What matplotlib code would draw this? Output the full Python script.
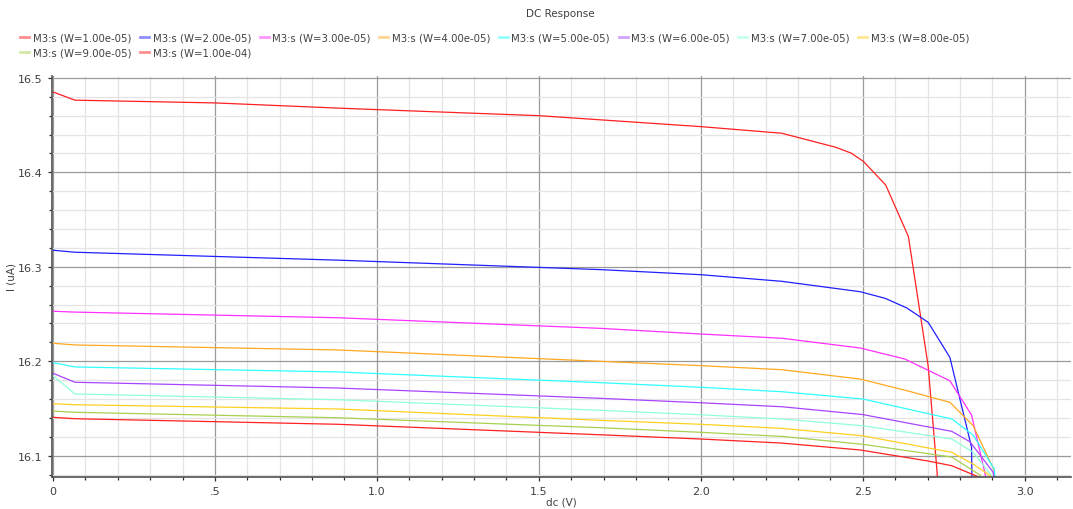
import matplotlib
matplotlib.use("Agg")
import matplotlib.pyplot as plt
from matplotlib.lines import Line2D
from matplotlib.ticker import MultipleLocator

# ---- data (dc sweep in V, current in uA) ----
labels = ["M3:s (W=1.00e-05)", "M3:s (W=2.00e-05)", "M3:s (W=3.00e-05)",
          "M3:s (W=4.00e-05)", "M3:s (W=5.00e-05)", "M3:s (W=6.00e-05)",
          "M3:s (W=7.00e-05)", "M3:s (W=8.00e-05)", "M3:s (W=9.00e-05)",
          "M3:s (W=1.00e-04)"]
colors = ["#ff2020", "#2020ff", "#ff30ff", "#ffa820", "#30ffff",
          "#a845ff", "#90ffd8", "#ffd020", "#a8d050", "#ff2020"]

w1_x = [0, 0.068, 0.5, 0.88, 1.0, 1.5, 2.0, 2.25, 2.416, 2.464, 2.502, 2.571, 2.641, 2.702, 2.729, 2.75]
w1_y = [16.4851, 16.4764, 16.4735, 16.468, 16.4664, 16.46, 16.4484, 16.4414, 16.4266, 16.4204,
        16.4116, 16.3865, 16.332, 16.195, 16.085, 15.98]
w2_x = [0, 0.068, 0.88, 1.689, 2.0, 2.25, 2.492, 2.569, 2.636, 2.702, 2.769, 2.836, 2.843]
w2_y = [16.3175, 16.3154, 16.307, 16.297, 16.2916, 16.2846, 16.2736, 16.2666, 16.2564, 16.2412,
        16.2041, 16.1088, 15.90]
w3_x = [0, 0.068, 0.88, 1.689, 2.0, 2.25, 2.492, 2.63, 2.769, 2.836, 2.905]
w3_y = [16.2529, 16.252, 16.246, 16.2348, 16.2288, 16.2243, 16.214, 16.2023, 16.1793, 16.143, 16.04]
w4_x = [0, 0.068, 0.88, 1.689, 2.0, 2.25, 2.492, 2.636, 2.769, 2.841, 2.905, 2.93]
w4_y = [16.219, 16.2172, 16.2119, 16.1999, 16.1953, 16.191, 16.1811, 16.1688, 16.1565, 16.1317,
        16.085, 16.0]
w5_x = [0, 0.068, 0.88, 1.689, 2.0, 2.25, 2.5, 2.775, 2.841, 2.906, 2.93]
w5_y = [16.1984, 16.1939, 16.1886, 16.1773, 16.1724, 16.1677, 16.16, 16.1388, 16.1218, 16.0858, 16.0]
w6_x = [0, 0.068, 0.88, 1.689, 2.0, 2.25, 2.5, 2.775, 2.831, 2.903, 2.93]
w6_y = [16.1872, 16.1777, 16.1716, 16.1607, 16.156, 16.1518, 16.1435, 16.1257, 16.1147, 16.0823, 16.0]
w7_x = [0, 0.068, 0.88, 1.689, 2.0, 2.25, 2.5, 2.775, 2.841, 2.898, 2.92]
w7_y = [16.1846, 16.1653, 16.1592, 16.148, 16.1433, 16.1388, 16.1317, 16.1176, 16.1035, 16.0787, 16.0]
w8_x = [0, 0.068, 0.88, 1.689, 2.0, 2.25, 2.5, 2.775, 2.841, 2.898, 2.92]
w8_y = [16.155, 16.1539, 16.1494, 16.1374, 16.1332, 16.1289, 16.121, 16.1035, 16.091, 16.0777, 16.0]
w9_x = [0, 0.068, 0.88, 1.689, 2.0, 2.25, 2.5, 2.775, 2.862, 2.89]
w9_y = [16.1472, 16.1459, 16.1401, 16.1296, 16.1247, 16.1204, 16.112, 16.0985, 16.0795, 16.0]
w10_x = [0, 0.068, 0.88, 1.689, 2.0, 2.25, 2.492, 2.702, 2.775, 2.856, 2.88]
w10_y = [16.1406, 16.1391, 16.1332, 16.1221, 16.1176, 16.1133, 16.106, 16.0943, 16.0893, 16.0777, 16.0]

series_x = [w1_x, w2_x, w3_x, w4_x, w5_x, w6_x, w7_x, w8_x, w9_x, w10_x]
series_y = [w1_y, w2_y, w3_y, w4_y, w5_y, w6_y, w7_y, w8_y, w9_y, w10_y]

x_ticks = [0, 0.5, 1.0, 1.5, 2.0, 2.5, 3.0]
x_tick_labels = ["0", ".5", "1.0", "1.5", "2.0", "2.5", "3.0"]
y_ticks = [16.1, 16.2, 16.3, 16.4, 16.5]
y_tick_labels = ["16.1", "16.2", "16.3", "16.4", "16.5"]

plt.rcParams['font.family'] = ['DejaVu Sans']

fig = plt.figure(figsize=(10.73, 5.10), dpi=100)
ax = fig.add_axes([52 / 1073, (510 - 477.7) / 510, (1071 - 52) / 1073, (477.7 - 77) / 510])

for xs, ys, c in zip(series_x, series_y, colors):
    ax.plot(xs, ys, color=c, lw=0.9, solid_joinstyle='miter')

ax.set_xlim(-0.003, 3.143)
ax.set_ylim(16.0777, 16.502)

ax.set_xticks(x_ticks)
ax.set_xticklabels(x_tick_labels)
ax.set_yticks(y_ticks)
ax.set_yticklabels(y_tick_labels)
ax.xaxis.set_minor_locator(MultipleLocator(0.1))
ax.yaxis.set_minor_locator(MultipleLocator(0.02))

ax.grid(which='major', color='#9a9a9a', lw=0.9)
ax.grid(which='minor', color='#e4e4e4', lw=0.9)
ax.set_axisbelow(True)

for s in ['top', 'right']:
    ax.spines[s].set_visible(False)
for s in ['left', 'bottom']:
    ax.spines[s].set_color('#505050')
    ax.spines[s].set_linewidth(1.2)

ax.tick_params(which='major', direction='out', length=3, width=0.9, color='#303030',
               labelsize=8, labelcolor='#404040', pad=4)
ax.tick_params(which='minor', direction='out', length=2, width=0.9, color='#303030')

ax.set_xlabel("dc (V)", fontsize=7.5, color='#404040', labelpad=0)
ax.set_ylabel("I (uA)", fontsize=7.5, color='#404040', labelpad=1)

fig.text(560 / 1073, 1 - 14 / 510, "DC Response", ha='center', va='center',
         fontsize=7.5, color='#404040')

# legend laid out row by row (matplotlib fills column by column)
order = [0, 8, 1, 9, 2, 3, 4, 5, 6, 7]
handles = [Line2D([], [], color=colors[i], lw=2.0, alpha=0.5) for i in order]
fig.legend(handles, [labels[i] for i in order], ncol=8, loc='upper left',
           bbox_to_anchor=(0.019, 0.934),
           frameon=False, fontsize=7.3, handlelength=0.89, handletextpad=0.35,
           columnspacing=0.84, labelspacing=0.5, borderaxespad=0, borderpad=0,
           labelcolor='#404040')

fig.savefig("out.png", dpi=100)
